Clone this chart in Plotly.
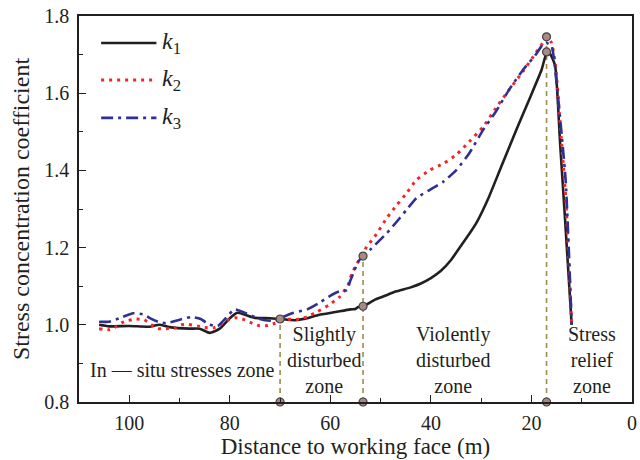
import plotly.graph_objects as go

# ---------------- data ----------------
k1_x = [106, 104, 100, 96, 94, 92, 88, 86, 84, 82, 80, 78.5, 77, 75, 72, 70, 67, 65, 62.5, 59,
        56, 55, 54.5, 53.5, 51, 49, 47, 44, 42, 40, 38, 36, 34, 31, 28.5, 26, 23, 20.5, 18,
        16.9, 16.2, 15.3, 14.3, 13.3, 12]
k1_y = [1.0, 0.996, 0.997, 0.995, 1.0, 0.994, 0.99, 0.99, 0.979, 0.99, 1.017, 1.031, 1.026,
        1.018, 1.017, 1.015, 1.012, 1.016, 1.025, 1.033, 1.04, 1.041, 1.046, 1.048, 1.066,
        1.076, 1.086, 1.097, 1.107, 1.121, 1.14, 1.168, 1.205, 1.263, 1.33, 1.41, 1.505,
        1.582, 1.66, 1.707, 1.70, 1.672, 1.47, 1.27, 1.0]

k2_x = [106, 104.2, 102.8, 101.5, 100.2, 98.6, 97, 95.8, 94.3, 92.7, 91, 89.7, 88.3, 86.4, 85,
        83.2, 82, 80.4, 78.9, 77.5, 75.9, 74.3, 72.5, 71, 68.6, 66.6, 64.6, 62.6, 60.3, 58.1,
        56.5, 55.7, 54.7, 53.8, 52.8, 51.2, 48.8, 46.8, 44.9, 42.9, 40.3, 37.5, 35, 32.4, 29.6,
        27.1, 24.5, 21.7, 19.2, 17.8, 16.9, 16, 15.2, 14.2, 13.2, 12]
k2_y = [0.99, 0.987, 0.994, 1.005, 1.011, 1.015, 1.013, 1.002, 0.99, 0.99, 0.991, 1.0, 1.001,
        0.997, 0.993, 0.992, 1.0, 1.012, 1.018, 1.015, 1.006, 0.998, 0.998, 1.004, 1.014,
        1.014, 1.021, 1.034, 1.051, 1.073, 1.103, 1.133, 1.159, 1.176, 1.202, 1.228, 1.276,
        1.31, 1.34, 1.375, 1.40, 1.418, 1.44, 1.474, 1.513, 1.561, 1.608, 1.656, 1.703, 1.729,
        1.746, 1.73, 1.67, 1.505, 1.332, 1.0]

k3_x = [106, 104, 102, 99.2, 97, 96, 94.3, 92.7, 90.3, 87.7, 85.8, 84, 82.4, 80.8, 79.1, 77.5,
        74.5, 73, 71, 70, 67.6, 64.6, 62.3, 60.3, 58.3, 56.7, 56.1, 55.3, 54.5, 53.5, 51.8,
        49.8, 48.8, 46.8, 44.9, 42.9, 40.3, 37.5, 35, 32.4, 29.6, 27.1, 24.5, 21.7, 19.2,
        17.8, 17, 16, 14.8, 13.2, 12]
k3_y = [1.008, 1.008, 1.017, 1.03, 1.026, 1.018, 1.008, 1.004, 1.012, 1.02, 1.015, 1.0, 0.997,
        1.017, 1.04, 1.034, 1.017, 1.012, 1.01, 1.017, 1.03, 1.04, 1.056, 1.073, 1.086, 1.09,
        1.112, 1.138, 1.163, 1.178, 1.198, 1.224, 1.237, 1.267, 1.297, 1.328, 1.349, 1.371,
        1.40, 1.444, 1.505, 1.552, 1.608, 1.66, 1.699, 1.725, 1.73, 1.722, 1.6, 1.375, 1.0]

# zone boundaries and the curve values marked on them
boundary_x = [70, 53.5, 17]
boundary_marks = [[1.015], [1.048, 1.178], [1.707, 1.746]]
base_y = 0.8

zone_labels = ["In — situ stresses zone", "Slightly<br>disturbed<br>zone",
               "Violently<br>disturbed<br>zone", "Stress<br>relief<br>zone"]
zone_label_x = [89.5, 61.2, 35.6, 7.9]
zone_label_y = [0.882, 0.908, 0.908, 0.908]

x_ticks = [100, 80, 60, 40, 20, 0]
y_ticks = [0.8, 1.0, 1.2, 1.4, 1.6, 1.8]

# ---------------- style ----------------
FONT = "Liberation Serif, Times New Roman, serif"
BLACK = "#231f20"
RED = "#f0262b"
BLUE = "#2e3192"
OLIVE = "#9e8b4e"
MARK_FILL = "#a68a8a"
MARK_LINE = "#4a4040"

fig = go.Figure()

# vertical dashed zone lines with markers
for bx, marks in zip(boundary_x, boundary_marks):
    fig.add_trace(go.Scatter(
        x=[bx, bx], y=[base_y, max(marks)], mode="lines",
        line=dict(color=OLIVE, width=1.6, dash="5px,4px"),
        showlegend=False, hoverinfo="skip"))

fig.add_trace(go.Scatter(x=k1_x, y=k1_y, mode="lines", name="k1",
                         line=dict(color=BLACK, width=2.6, shape="spline", smoothing=0.5),
                         showlegend=False))
fig.add_trace(go.Scatter(x=k2_x, y=k2_y, mode="lines", name="k2",
                         line=dict(color=RED, width=3, dash="3px,5px", shape="spline", smoothing=0.5),
                         showlegend=False))
fig.add_trace(go.Scatter(x=k3_x, y=k3_y, mode="lines", name="k3",
                         line=dict(color=BLUE, width=2.6, dash="12px,5px,3px,5px", shape="spline",
                                   smoothing=0.5),
                         showlegend=False))

mx, my = [], []
for bx, marks in zip(boundary_x, boundary_marks):
    for v in [base_y] + marks:
        mx.append(bx)
        my.append(v)
fig.add_trace(go.Scatter(x=mx, y=my, mode="markers",
                         marker=dict(size=8, color=MARK_FILL, line=dict(color=MARK_LINE, width=1.2)),
                         showlegend=False, hoverinfo="skip", cliponaxis=False))

# zone labels
for t, zx, zy in zip(zone_labels, zone_label_x, zone_label_y):
    fig.add_annotation(x=zx, y=zy, text=t, showarrow=False, xref="x", yref="y",
                       font=dict(family=FONT, size=20, color="#231f20"), align="center")

# manual legend
legend_items = [("<i>k</i><sub>1</sub>", BLACK, "solid", 2.6, 0.930),
                ("<i>k</i><sub>2</sub>", RED, "3px,5px", 3, 0.834),
                ("<i>k</i><sub>3</sub>", BLUE, "12px,5px,3px,5px", 2.6, 0.736)]
for label, col, dash, w, ly in legend_items:
    fig.add_shape(type="line", xref="paper", yref="paper", x0=0.040, x1=0.140, y0=ly, y1=ly,
                  line=dict(color=col, width=w, dash=dash))
    fig.add_annotation(xref="paper", yref="paper", x=0.146, y=ly, text=label, showarrow=False,
                       xanchor="left", yanchor="middle",
                       font=dict(family=FONT, size=24, color=BLACK))

axis_common = dict(showline=True, linecolor=BLACK, linewidth=1.6, mirror=True,
                   ticks="inside", tickcolor=BLACK, tickwidth=1.4, ticklen=7,
                   showgrid=False, zeroline=False,
                   tickfont=dict(family=FONT, size=20, color=BLACK))

fig.update_xaxes(range=[110, 0], tickvals=x_ticks, ticklabelstandoff=2,
                 minor=dict(dtick=10, ticks="inside", ticklen=4, tickcolor=BLACK, tickwidth=1.2),
                 title=dict(text="Distance to working face (m)",
                            font=dict(family=FONT, size=23, color=BLACK), standoff=5),
                 **axis_common)
fig.update_yaxes(range=[0.8, 1.8], tickvals=y_ticks, tickformat=".1f", ticklabelstandoff=4,
                 minor=dict(dtick=0.1, ticks="inside", ticklen=4, tickcolor=BLACK, tickwidth=1.2),
                 title=dict(text="Stress concentration coefficient",
                            font=dict(family=FONT, size=24, color=BLACK), standoff=8),
                 **axis_common)

fig.update_layout(width=640, height=460, margin=dict(l=79, r=3, t=16, b=58),
                  plot_bgcolor="white", paper_bgcolor="white",
                  font=dict(family=FONT, color=BLACK))

fig.write_html("out.html")
